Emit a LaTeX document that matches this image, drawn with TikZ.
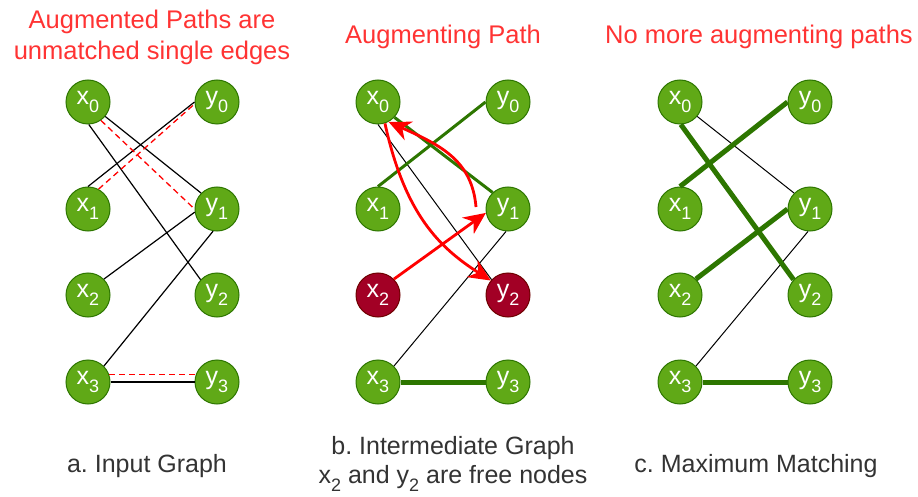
\documentclass[tikz,border=0pt]{standalone}
\usepackage{fontspec}
\setmainfont{Liberation Sans}
\usetikzlibrary{arrows.meta}
\definecolor{ngreen}{HTML}{60A917}
\definecolor{gstroke}{HTML}{2D7600}
\definecolor{dred}{HTML}{A20025}
\definecolor{dredstroke}{HTML}{6F0000}
\definecolor{titlered}{HTML}{FF3333}
\definecolor{captxt}{HTML}{333333}
\newcommand{\nx}[2]{#1\raisebox{-0.3em}{\fontsize{18}{18}\selectfont #2}}
\newcommand{\cx}[2]{#1\raisebox{-0.3em}{\fontsize{18}{18}\selectfont #2}}
\frenchspacing
\begin{document}
\begin{tikzpicture}[x=1pt,y=-1pt,
  vtx/.style={circle, fill=ngreen, draw=gstroke, line width=1pt, minimum size=44pt, inner sep=0pt, text=white, font=\fontsize{25}{25}\selectfont},
  freev/.style={vtx, fill=dred, draw=dredstroke},
  plainedge/.style={black, line width=1.2pt},
  matchedge/.style={gstroke, line width=3pt},
  heavyedge/.style={gstroke, line width=5pt},
  reddash/.style={red, line width=1.3pt, dash pattern=on 6pt off 4pt},
  redarrow/.style={red, line width=2.8pt, -{Stealth[length=22pt,width=20pt,inset=7pt]}},
  title/.style={text=titlered, font=\fontsize{25.5}{31}\selectfont, align=center},
  caption/.style={text=captxt, font=\fontsize{25}{29}\selectfont, align=center}
]
\useasboundingbox (0,0) rectangle (918,497);
% titles
\node[title] (t1) at (152,37) {Augmented Paths are\\unmatched single edges};
\node[title] (t2) at (443,37) {Augmenting Path};
\node[title] (t3) at (759,37) {No more augmenting paths};
% captions
\node[caption] (c1) at (147,466) {a. Input Graph};
\node[caption] (c2) at (453,464) {b. Intermediate Graph\\\cx{x}{2} and \cx{y}{2} are free nodes};
\node[caption] (c3) at (756,466) {c. Maximum Matching};
% nodes
\foreach \p/\X/\Y in {a/88/217, b/378/508, c/680/810} {
  \foreach \i/\r in {0/102,1/209,3/382} {
    \node[vtx] (\p x\i) at (\X,\r) {\nx{x}{\i}};
    \node[vtx] (\p y\i) at (\Y,\r) {\nx{y}{\i}};
  }
}
\node[vtx] (ax2) at (88,295) {\nx{x}{2}};
\node[vtx] (ay2) at (217,295) {\nx{y}{2}};
\node[freev] (bx2) at (378,295) {\nx{x}{2}};
\node[freev] (by2) at (508,295) {\nx{y}{2}};
\node[vtx] (cx2) at (680,295) {\nx{x}{2}};
\node[vtx] (cy2) at (810,295) {\nx{y}{2}};
% panel a edges
\draw[plainedge] (ax0.-88) -- (ay2.137);
\draw[plainedge] (ax0.-40) -- (ay1.135);
\draw[plainedge] (ax1.north) -- (ay0.west);
\draw[plainedge] (ax2.north east) -- (ay1.188);
\draw[plainedge] (ax3.north east) -- (ay1.-100);
\draw[plainedge] (ax3.east) -- (ay3.west);
\draw[reddash] (ax0.-55) -- (ay1.west);
\draw[reddash] (ax1.62) -- (ay0.185);
\draw[reddash] (ax3.20) -- (ay3.160);
% panel b edges
\draw[plainedge, line width=1pt] (bx0.south) -- (by2.137);
\draw[plainedge, line width=1pt] (bx3.north east) -- (by1.-95);
\draw[matchedge] (bx0.-43) -- (by1.133);
\draw[matchedge] (bx1.north) -- (by0.west);
\draw[heavyedge] (bx3.east) -- (by3.west);
\coordinate (bstart) at (476,207);
\draw[redarrow] (bx2.north east) -- (by1.190);
\draw[redarrow] (bstart) .. controls (472,160) and (440,145) .. (bx0.-62);
\draw[redarrow] (bx0.-72) .. controls (405,215) and (440,248) .. (by2.140);
% panel c edges
\draw[plainedge, line width=1pt] (cx0.-40) -- (cy1.135);
\draw[plainedge, line width=1pt] (cx3.north east) -- (cy1.-95);
\draw[heavyedge] (cx0.-88) -- (cy2.137);
\draw[heavyedge] (cx1.north) -- (cy0.west);
\draw[heavyedge] (cx2.north east) -- (cy1.west);
\draw[heavyedge] (cx3.east) -- (cy3.west);
\end{tikzpicture}
\end{document}
